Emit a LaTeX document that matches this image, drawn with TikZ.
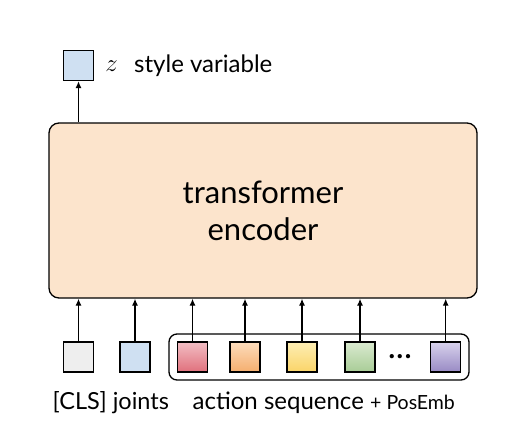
\documentclass[tikz,border=0pt]{standalone}
\usepackage{fontspec}
\setmainfont{Lato}
\usetikzlibrary{arrows.meta}
\begin{document}
\begin{tikzpicture}[x=1pt,y=-1pt,
  tok/.style={draw=black, line width=1.3pt, minimum size=30pt, inner sep=0pt},
  arr/.style={-{Latex[length=7pt,width=6pt]}, line width=1.3pt},
  lbl/.style={font=\fontsize{24}{24}\selectfont, inner sep=0pt, anchor=base west},
]
\useasboundingbox (0,0) rectangle (519,429);
\node[draw=black, line width=1.3pt, fill={rgb,255:red,252;green,228;blue,204}, rounded corners=10pt,
  minimum width=428pt, minimum height=175pt, inner sep=0pt] (enc) at (263,210.5) {};
\node[font=\fontsize{31}{37}\selectfont, align=center, inner sep=0pt] (enctxt) at (263,210.5) {transformer\\encoder};
\node[tok, fill={rgb,255:red,207;green,224;blue,242}] (z) at (78.5,65.5) {};
\node[font=\fontsize{32}{32}\selectfont, inner sep=0pt] (zl) at (111.5,66) {$z$};
\node[lbl] (sv) at (134,72) {style variable};
\draw[arr] (z.south |- enc.north) -- (z.south);
\node[draw=black, line width=1.3pt, rounded corners=8pt, minimum width=300pt, minimum height=46pt, inner sep=0pt] (seq) at (319,357) {};
\node[tok, fill={rgb,255:red,238;green,238;blue,238}] (cls) at (78.5,357) {};
\node[tok, fill={rgb,255:red,207;green,224;blue,242}] (jt) at (135,357) {};
\node[tok, top color={rgb,255:red,242;green,190;blue,196}, bottom color={rgb,255:red,224;green,112;blue,124}] (a1) at (192.5,357) {};
\node[tok, top color={rgb,255:red,252;green,220;blue,188}, bottom color={rgb,255:red,245;green,174;blue,110}] (a2) at (245,357) {};
\node[tok, top color={rgb,255:red,253;green,238;blue,180}, bottom color={rgb,255:red,250;green,212;blue,104}] (a3) at (302,357) {};
\node[tok, top color={rgb,255:red,218;green,234;blue,208}, bottom color={rgb,255:red,168;green,204;blue,150}] (a4) at (360,357) {};
\node[tok, top color={rgb,255:red,216;green,210;blue,236}, bottom color={rgb,255:red,152;green,138;blue,196}] (a5) at (445.7,357) {};
\node[font=\fontsize{34}{34}\selectfont, inner sep=0pt] (dots) at (400,357) {...};
\foreach \n in {cls,jt,a1,a2,a3,a4,a5}{
  \draw[arr] (\n.north) -- (\n.north |- enc.south);
}
\node[lbl, font=\fontsize{23.5}{24}\selectfont] (l1) at (52.5,409) {[CLS] joints};
\node[lbl] (l2) at (192.5,409) {action sequence};
\node[font=\fontsize{19.5}{20}\selectfont, inner sep=0pt, anchor=base west] (l3) at (370,409) {+ PosEmb};
\end{tikzpicture}
\end{document}
